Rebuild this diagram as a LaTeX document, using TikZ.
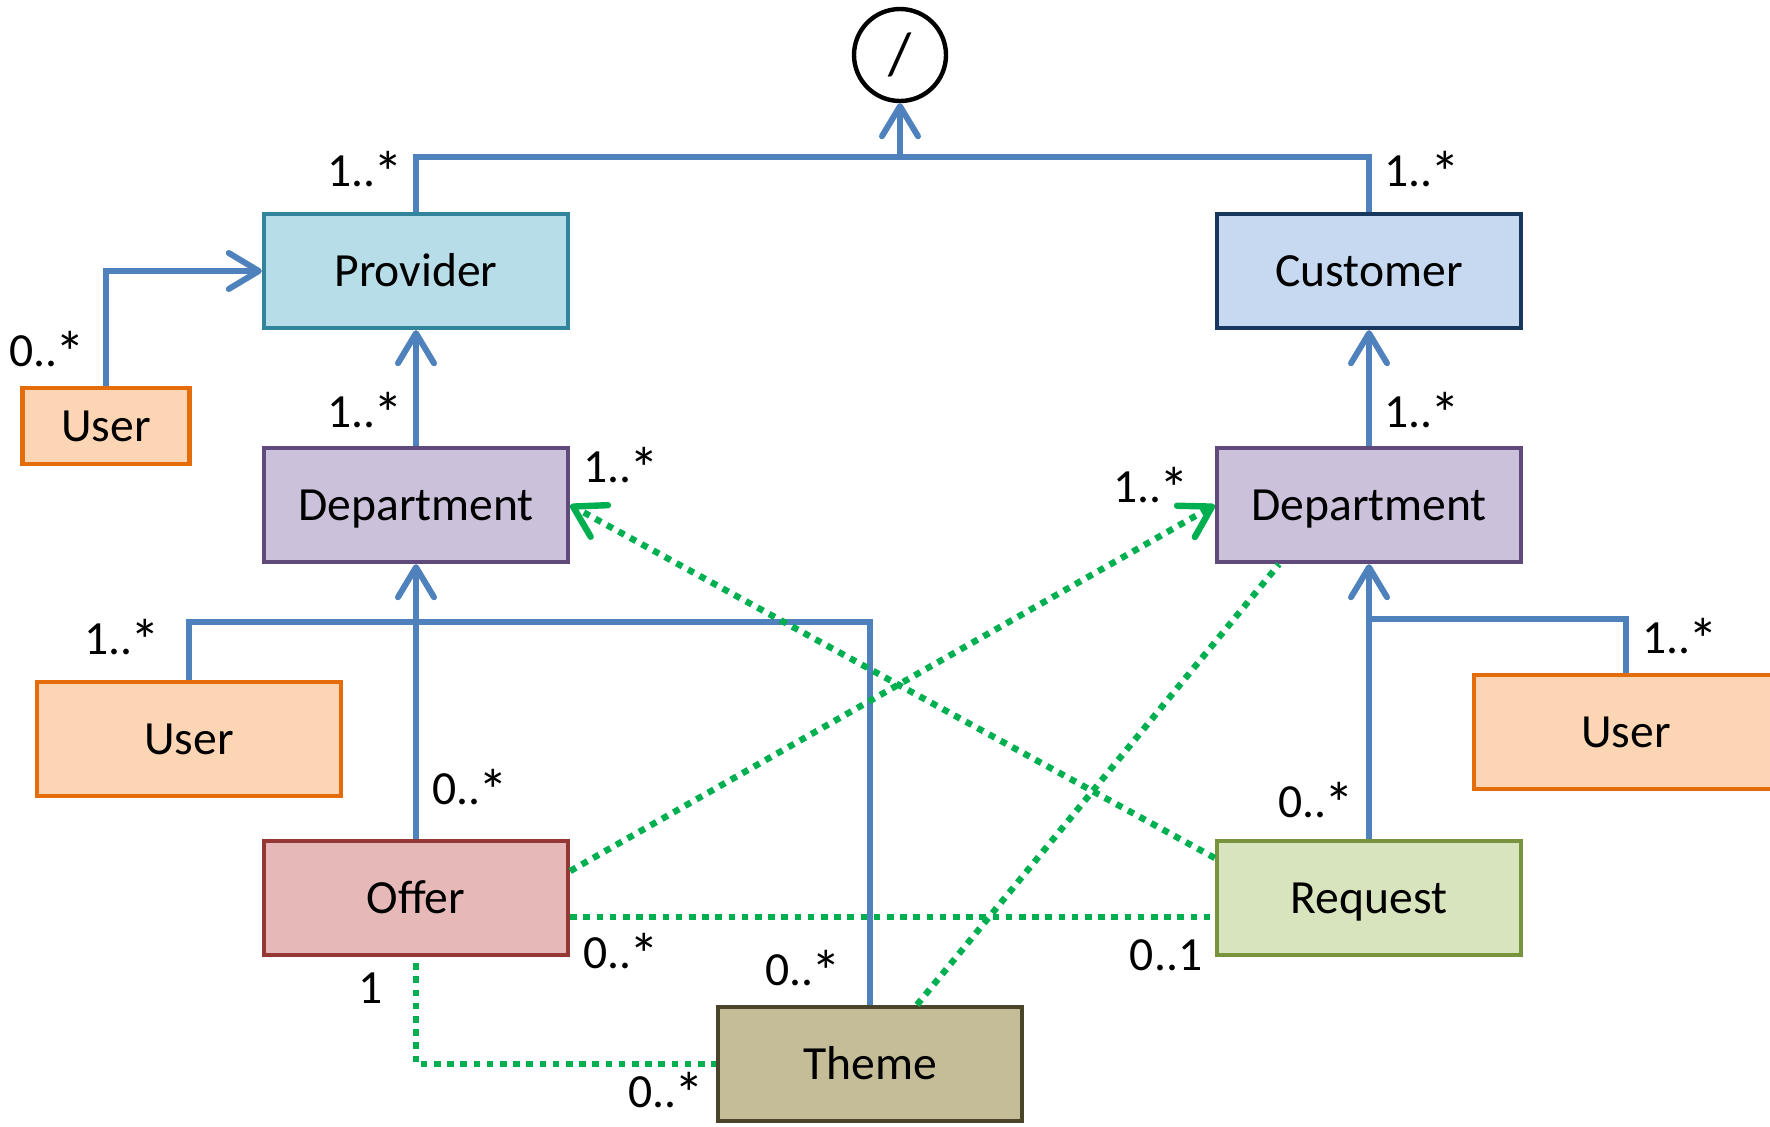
\documentclass[tikz,border=0pt]{standalone}
\usepackage{fontspec}
\usepackage{graphicx}
\setmainfont{Carlito}
\usetikzlibrary{arrows.meta,calc}
\definecolor{blueline}{HTML}{4F81BD}
\definecolor{greenline}{HTML}{00B050}
\definecolor{provfill}{HTML}{B7DEE8}
\definecolor{provdraw}{HTML}{31849B}
\definecolor{custfill}{HTML}{C6D9F1}
\definecolor{custdraw}{HTML}{17375E}
\definecolor{deptfill}{HTML}{CCC1DA}
\definecolor{deptdraw}{HTML}{604A7B}
\definecolor{userfill}{HTML}{FCD5B5}
\definecolor{userdraw}{HTML}{E46C0A}
\definecolor{offerfill}{HTML}{E6B9B8}
\definecolor{offerdraw}{HTML}{953735}
\definecolor{reqfill}{HTML}{D7E4BD}
\definecolor{reqdraw}{HTML}{77933C}
\definecolor{themefill}{HTML}{C4BD97}
\definecolor{themedraw}{HTML}{4A452A}
\newcommand\diagfont{\fontsize{23.8}{28}\selectfont}
\newcommand\mystar{\kern-0.04em\raisebox{-0.13em}{\scalebox{1.25}{*}}}
\begin{document}
\begin{tikzpicture}[x=0.5pt,y=-0.5pt,
  box/.style={draw, line width=2.2pt, minimum width=152pt, minimum height=57pt, inner sep=0pt, font=\diagfont, text height=15.3pt, text depth=0pt},
  smallbox/.style={box, minimum width=83.5pt, minimum height=38pt},
  lbl/.style={font=\diagfont, inner sep=0pt},
  bl/.style={draw=blueline, line width=3pt},
  gr/.style={draw=greenline, line width=3.2pt, dash pattern=on 3.3pt off 3.3pt},
  arr/.style={-{Straight Barb[length=15pt,width=18pt,round]}}
]
\clip (0,0) rectangle (1770,1126);
\fill[white] (0,0) rectangle (1770,1126);

\node[circle, draw, line width=2.2pt, minimum size=46pt, inner sep=0pt, font=\fontsize{30}{34}\selectfont] (circ) at (900,55) {/};

\node[box, fill=provfill, draw=provdraw] (provider) at (416,271) {Provider};
\node[box, fill=custfill, draw=custdraw] (customer) at (1369,271) {Customer};
\node[smallbox, fill=userfill, draw=userdraw] (u1) at (106,426) {User};
\node[box, fill=deptfill, draw=deptdraw] (deptL) at (416,505) {Department};
\node[box, fill=deptfill, draw=deptdraw] (deptR) at (1369,505) {Department};
\node[box, fill=userfill, draw=userdraw] (u2) at (189,739) {User};
\node[box, fill=userfill, draw=userdraw] (u3) at (1626,732) {User};
\node[box, fill=offerfill, draw=offerdraw] (offer) at (416,898) {Offer};
\node[box, fill=reqfill, draw=reqdraw] (request) at (1369,898) {Request};
\node[box, fill=themefill, draw=themedraw] (theme) at (870,1064) {Theme};

% blue connectors
\coordinate (topbar) at (900,158);
\draw[bl] (provider.north) -- ++(0,-55) -| (customer.north);
\draw[bl, arr] (topbar) -- (circ.south);
\draw[bl, arr] (u1.north) |- (provider.west);
\draw[bl, arr] (deptL.north) -- (provider.south);
\draw[bl, arr] (deptR.north) -- (customer.south);
\draw[bl, arr] (offer.north) -- (deptL.south);
\coordinate (jl) at (416,622);
\draw[bl] (u2.north) |- (jl) -| (theme.north);
\coordinate (jr) at (1369,619);
\draw[bl, arr] (request.north) -- (deptR.south);
\draw[bl] (u3.north) |- (jr);

% green connectors
\draw[gr, arr] ($(offer.east)+(0,-27)$) -- (deptR.west);
\draw[gr, arr] ($(request.west)+(0,-40)$) -- (deptL.east);
\draw[gr] ($(theme.north)+(47,0)$) -- ($(deptR.south)+(-90,0)$);
\draw[gr] ($(offer.east)+(0,19)$) -- ($(request.west)+(0,19)$);
\draw[gr] ($(offer.south)+(0,6)$) |- (theme.west);

% labels
\node[lbl] (l1) at (365,172) {1..\mystar};
\node[lbl] (l2) at (1422,172) {1..\mystar};
\node[lbl] (l3) at (47,352) {0..\mystar};
\node[lbl] (l4) at (365,413) {1..\mystar};
\node[lbl] (l5) at (1422,413) {1..\mystar};
\node[lbl] (l6) at (621,468) {1..\mystar};
\node[lbl] (l7) at (1151,488) {1..\mystar};
\node[lbl] (l8) at (122,640) {1..\mystar};
\node[lbl] (l9) at (1680,639) {1..\mystar};
\node[lbl] (l10) at (470,790) {0..\mystar};
\node[lbl] (l11) at (1316,803) {0..\mystar};
\node[lbl] (l12) at (621,954) {0..\mystar};
\node[lbl] (l13) at (803,971) {0..\mystar};
\node[lbl] (l14) at (1166,955) {0..1};
\node[lbl] (l15) at (371,988) {1};
\node[lbl] (l16) at (666,1093) {0..\mystar};
\end{tikzpicture}
\end{document}
